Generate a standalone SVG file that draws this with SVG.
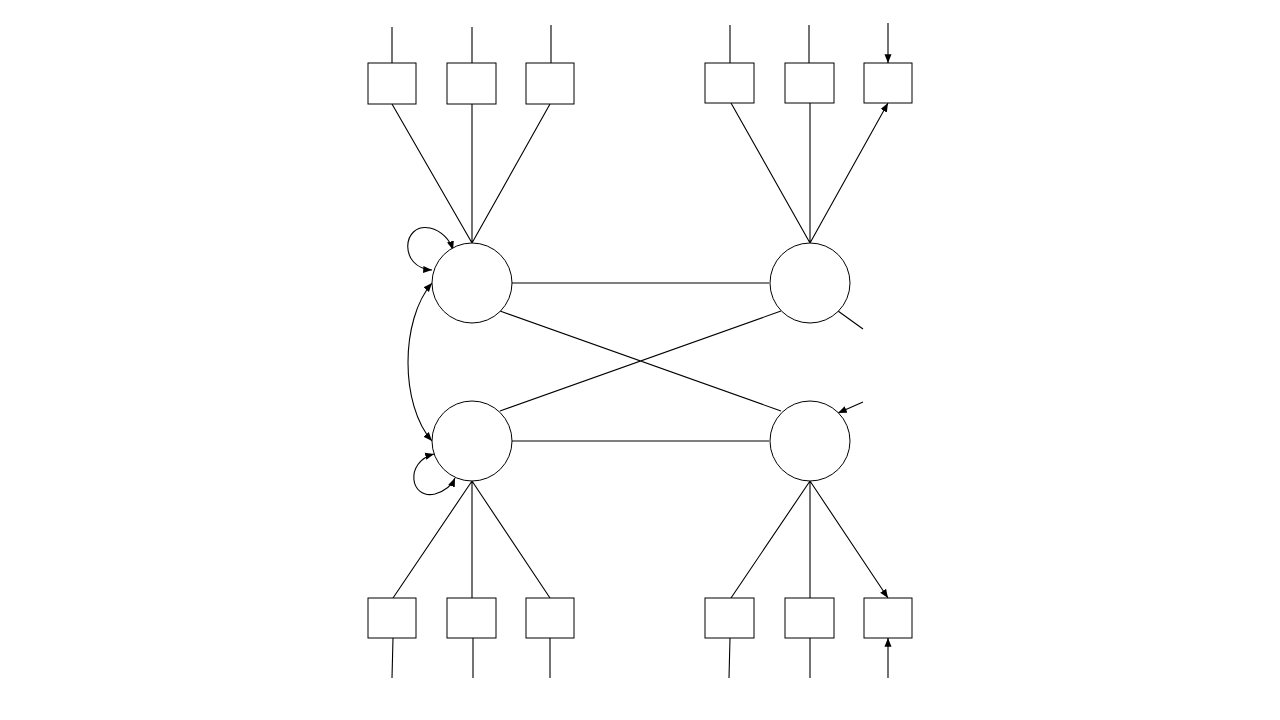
<svg xmlns="http://www.w3.org/2000/svg" width="1280" height="720" viewBox="0 0 1280 720">
<defs><marker id="a" viewBox="0 0 10 10" refX="10" refY="5" markerWidth="8" markerHeight="8" orient="auto-start-reverse"><path d="M0,1 L10,5 L0,9 z" fill="#000"/></marker>
<style>.n{fill:#fff;stroke:#000;stroke-width:1}.c{fill:none;stroke:#000;stroke-width:1.1;marker-end:url(#a)}.d{fill:none;stroke:#000;stroke-width:1.1;marker-end:url(#a);marker-start:url(#a)}</style></defs>
<rect width="1280" height="720" fill="#fff"/>
<g id="connectors">
<path class="c" d="M472,243L392,104M472,243L472,104M472,243L550,104M810,243L731,103M810,243L810,103M810,243L888,103"/>
<path class="c" d="M472,481L393,598M472,481L472,598M472,481L550,598M810,481L731,598M810,481L810,598M810,481L888,598"/>
<path class="c" d="M392,27L392,63M472,27L472,63M551,25L551,63M730,25L730,63M809,25L809,63M888,23L888,63"/>
<path class="c" d="M392,678L393,638M473,678L473,638M550,678L550,638M729,678L730,638M810,678L810,638M888,678L888,638"/>
<path class="c" d="M512,283L769,283M512,441L769,441M500,311L781,411M500,411L781,311M863,329L838,311M863,402L838,413"/>
<path class="d" d="M432,283C400,320 400,405 432,441"/>
<path class="d" d="M432,270C398,268 402,222 430,228C442,231 450,240 453,250"/>
<path class="d" d="M434,454C404,462 410,500 435,494C445,491 452,485 455,478"/>
</g>
<g id="nodes">
<g id="x1"><rect class="n" x="368" y="63" width="48" height="41"/></g>
<g id="x2"><rect class="n" x="447" y="63" width="49" height="41"/></g>
<g id="x3"><rect class="n" x="526" y="63" width="48" height="41"/></g>
<g id="y1"><rect class="n" x="705" y="63" width="49" height="40"/></g>
<g id="y2"><rect class="n" x="785" y="63" width="49" height="40"/></g>
<g id="y3"><rect class="n" x="864" y="63" width="48" height="40"/></g>
<g id="x4"><rect class="n" x="368" y="598" width="48" height="40"/></g>
<g id="x5"><rect class="n" x="447" y="598" width="49" height="40"/></g>
<g id="x6"><rect class="n" x="526" y="598" width="48" height="40"/></g>
<g id="y4"><rect class="n" x="705" y="598" width="49" height="40"/></g>
<g id="y5"><rect class="n" x="785" y="598" width="49" height="40"/></g>
<g id="y6"><rect class="n" x="864" y="598" width="48" height="40"/></g>
<g id="f1"><ellipse class="n" cx="472" cy="283" rx="40" ry="40"/></g>
<g id="f2"><ellipse class="n" cx="472" cy="441" rx="40" ry="40"/></g>
<g id="f3"><ellipse class="n" cx="810" cy="283" rx="40" ry="40"/></g>
<g id="f4"><ellipse class="n" cx="810" cy="441" rx="40" ry="40"/></g>
</g>
</svg>
